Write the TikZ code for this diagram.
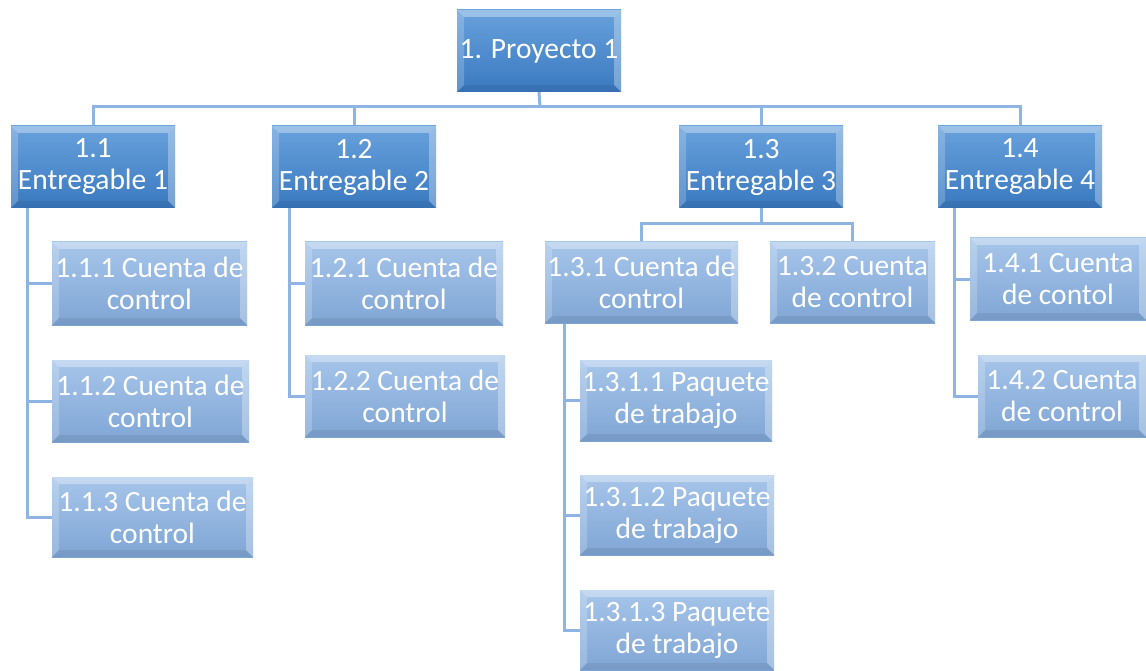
\documentclass[tikz,border=0pt]{standalone}
\usepackage{fontspec}
\setmainfont{Carlito}
\usetikzlibrary{backgrounds}
\definecolor{darkA}{HTML}{68A1DC}
\definecolor{darkB}{HTML}{3A79C0}
\definecolor{lightA}{HTML}{A6C5EA}
\definecolor{lightB}{HTML}{80A6D5}
\definecolor{linec}{HTML}{8DB4E2}
\tikzset{
  bevel/.style={path picture={
    \coordinate (nw) at (path picture bounding box.north west);
    \coordinate (ne) at (path picture bounding box.north east);
    \coordinate (sw) at (path picture bounding box.south west);
    \coordinate (se) at (path picture bounding box.south east);
    \fill[white,opacity=0.35] (nw) -- (ne) -- ([xshift=-7pt,yshift=-7pt]ne) -- ([xshift=7pt,yshift=-7pt]nw) -- cycle;
    \fill[white,opacity=0.2] (nw) -- ([xshift=7pt,yshift=-7pt]nw) -- ([xshift=7pt,yshift=7pt]sw) -- (sw) -- cycle;
    \fill[white,opacity=0.3] (ne) -- ([xshift=-7pt,yshift=-7pt]ne) -- ([xshift=-7pt,yshift=7pt]se) -- (se) -- cycle;
    \fill[black,opacity=0.07] (sw) -- ([xshift=7pt,yshift=7pt]sw) -- ([xshift=-7pt,yshift=7pt]se) -- (se) -- cycle;
  }},
  wbsbox/.style={inner sep=0pt, align=center, text=white,
    font=\fontsize{29.5}{32}\selectfont, bevel},
  darkbox/.style={wbsbox, top color=darkA, bottom color=darkB},
  lightbox/.style={wbsbox, top color=lightA, bottom color=lightB},
  conn/.style={draw=linec, line width=3pt},
}
\begin{document}
\begin{tikzpicture}[x=1pt,y=-1pt]
\useasboundingbox (0,0) rectangle (1146,671);
% nodes
\node[darkbox, minimum width=164pt, minimum height=82pt] (p) at (539,51) {1. Proyecto 1};
\node[darkbox, minimum width=164pt, minimum height=82pt] (e1) at (93,167) {1.1\\Entregable 1};
\node[darkbox, minimum width=164pt, minimum height=82pt] (e2) at (354,167) {1.2\\Entregable 2};
\node[darkbox, minimum width=164pt, minimum height=82pt] (e3) at (761,167) {1.3\\Entregable 3};
\node[darkbox, minimum width=164pt, minimum height=82pt] (e4) at (1020,167) {1.4\\Entregable 4};
\node[lightbox, minimum width=195pt, minimum height=83pt] (c111) at (149.5,283.5) {1.1.1 Cuenta de\\control};
\node[lightbox, minimum width=197pt, minimum height=82pt] (c112) at (150.5,401) {1.1.2 Cuenta de\\control};
\node[lightbox, minimum width=201pt, minimum height=80pt] (c113) at (152.5,517) {1.1.3 Cuenta de\\control};
\node[lightbox, minimum width=198pt, minimum height=83pt] (c121) at (404,283.5) {1.2.1 Cuenta de\\control};
\node[lightbox, minimum width=200pt, minimum height=82pt] (c122) at (405,396) {1.2.2 Cuenta de\\control};
\node[lightbox, minimum width=193pt, minimum height=81pt] (c131) at (641.5,282.5) {1.3.1 Cuenta de\\control};
\node[lightbox, minimum width=165pt, minimum height=81pt] (c132) at (852.5,282.5) {1.3.2 Cuenta\\de control};
\node[lightbox, minimum width=192pt, minimum height=81pt] (c1311) at (676,400.5) {1.3.1.1 Paquete\\de trabajo};
\node[lightbox, minimum width=194pt, minimum height=80pt] (c1312) at (677,515) {1.3.1.2 Paquete\\de trabajo};
\node[lightbox, minimum width=194pt, minimum height=80pt] (c1313) at (677,630) {1.3.1.3 Paquete\\de trabajo};
\node[lightbox, minimum width=176pt, minimum height=82pt] (c141) at (1058,279) {1.4.1 Cuenta\\de contol};
\node[lightbox, minimum width=168pt, minimum height=82pt] (c142) at (1062,396) {1.4.2 Cuenta\\de control};
% connectors
\coordinate (bar) at (540,107);
\coordinate (b3) at (761,224);
\begin{scope}[on background layer]
\draw[conn] (p.south) -- (bar);
\draw[conn] (e1.north) -- (e1.north |- bar) -- (e4.north |- bar) -- (e4.north);
\draw[conn] (e2.north) -- (e2.north |- bar);
\draw[conn] (e3.north) -- (e3.north |- bar);
\draw[conn] ([xshift=17pt]e1.south west) |- (c111.west);
\draw[conn] ([xshift=17pt]e1.south west) |- (c112.west);
\draw[conn] ([xshift=17pt]e1.south west) |- (c113.west);
\draw[conn] ([xshift=18pt]e2.south west) |- (c121.west);
\draw[conn] ([xshift=18pt]e2.south west) |- (c122.west);
\draw[conn] (e3.south) -- (b3);
\draw[conn] (c131.north) |- (b3) -| (c132.north);
\draw[conn] ([xshift=20pt]c131.south west) |- (c1311.west);
\draw[conn] ([xshift=20pt]c131.south west) |- (c1312.west);
\draw[conn] ([xshift=20pt]c131.south west) |- (c1313.west);
\draw[conn] ([xshift=17pt]e4.south west) |- (c141.west);
\draw[conn] ([xshift=17pt]e4.south west) |- (c142.west);
\end{scope}
\end{tikzpicture}
\end{document}
